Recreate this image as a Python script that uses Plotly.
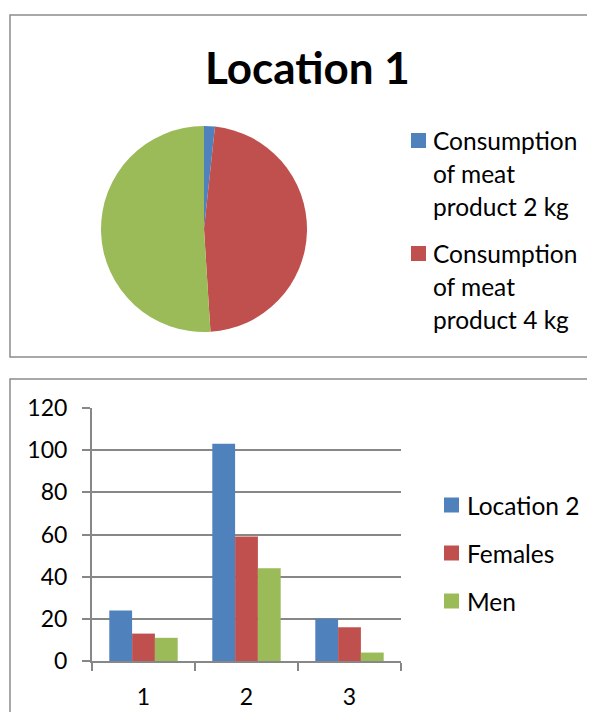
import plotly.graph_objects as go

# page body has an 8px margin; keep the figure inside the 595x720 window
OFF = 8
W, H = 595 - 2 * OFF, 720 - 2 * OFF

# ---- data ----
pie_title = "Location 1"
pie_labels = ["Consumption of meat product 2 kg",
              "Consumption of meat product 4 kg",
              "Consumption of meat product 6 kg"]
pie_values = [1.7, 47.3, 51.0]
pie_legend_lines = [["Consumption", "of meat", "product 2 kg"],
                    ["Consumption", "of meat", "product 4 kg"]]

bar_categories = ["1", "2", "3"]
bar_series = ["Location 2", "Females", "Men"]
bar_location2 = [24, 103, 20]
bar_females = [13, 59, 16]
bar_men = [11, 44, 4]
y_ticks = [0, 20, 40, 60, 80, 100, 120]

colors = ["#4F81BD", "#C0504D", "#9BBB59"]
FONT = "Lato"
GRID = "#878787"

def px(x):
    return (x - OFF) / W

def py(y):
    return 1 - (y - OFF) / H

fig = go.Figure()

# ---- pie ----
cx, cy, r = 204, 229, 103
fig.add_trace(go.Pie(
    labels=pie_labels, values=pie_values, sort=False, direction="clockwise",
    rotation=0, textinfo="none", hoverinfo="label+value", automargin=False,
    marker=dict(colors=colors, line=dict(width=0)),
    domain=dict(x=[px(cx - r), px(cx + r)], y=[py(cy + r), py(cy - r)]),
    showlegend=False,
))

# ---- bars ----
for name, vals, col in zip(bar_series, [bar_location2, bar_females, bar_men], colors):
    fig.add_trace(go.Bar(
        x=bar_categories, y=vals, name=name, marker=dict(color=col, line=dict(width=0)),
        xaxis="x", yaxis="y", showlegend=False,
    ))

shapes = []
annotations = []

# frames (they run off the right/bottom edge like in the original)
shapes.append(dict(type="rect", xref="paper", yref="paper",
                   x0=px(10), x1=px(640), y0=py(357), y1=py(15),
                   line=dict(color="#8c8c8c", width=1.5)))
shapes.append(dict(type="rect", xref="paper", yref="paper",
                   x0=px(10), x1=px(640), y0=py(760), y1=py(379),
                   line=dict(color="#8c8c8c", width=1.5)))

# pie title
annotations.append(dict(text="<b>" + pie_title + "</b>", x=px(307), y=py(67),
                        xref="paper", yref="paper", showarrow=False,
                        xanchor="center", yanchor="middle",
                        font=dict(family=FONT, size=44, color="black")))

# pie legend (only first two entries fit inside the original box)
entry_tops = [140, 253]
line_gap = 33
for i, lines in enumerate(pie_legend_lines):
    y0 = entry_tops[i]
    shapes.append(dict(type="rect", xref="paper", yref="paper",
                       x0=px(411), x1=px(426), y0=py(y0 + 8), y1=py(y0 - 7),
                       fillcolor=colors[i], line=dict(width=0)))
    for j, t in enumerate(lines):
        annotations.append(dict(text=t, x=px(431), y=py(y0 + j * line_gap),
                                xref="paper", yref="paper", showarrow=False,
                                xanchor="left", yanchor="middle",
                                font=dict(family=FONT, size=24.5, color="black")))

# bar legend
bar_leg_y = [505, 553, 601]
for i, name in enumerate(bar_series):
    yc = bar_leg_y[i]
    shapes.append(dict(type="rect", xref="paper", yref="paper",
                       x0=px(444), x1=px(459), y0=py(yc + 7.5), y1=py(yc - 7.5),
                       fillcolor=colors[i], line=dict(width=0)))
    annotations.append(dict(text=name, x=px(465), y=py(yc),
                            xref="paper", yref="paper", showarrow=False,
                            xanchor="left", yanchor="middle",
                            font=dict(family=FONT, size=24.5, color="black")))

fig.update_layout(
    template="none",
    width=W, height=H, autosize=False,
    margin=dict(l=0, r=0, t=0, b=0, pad=0, autoexpand=False),
    paper_bgcolor="white", plot_bgcolor="white",
    showlegend=False,
    barmode="group", bargap=0.336, bargroupgap=0,
    xaxis=dict(domain=[px(92), px(401)], type="category", automargin=False,
               showgrid=False, showline=True, linecolor=GRID, linewidth=2,
               ticks="outside", ticklen=8, tickwidth=2, tickcolor=GRID,
               tickson="boundaries", ticklabelstandoff=14,
               tickfont=dict(family=FONT, size=23, color="black"),
               anchor="y", fixedrange=True),
    yaxis=dict(domain=[py(661), py(408)], range=[0, 120], tickvals=y_ticks,
               automargin=False,
               showgrid=True, gridcolor=GRID, gridwidth=2,
               zeroline=False, showline=True, linecolor=GRID, linewidth=2,
               ticks="outside", ticklen=8, tickwidth=2, tickcolor=GRID,
               ticklabelstandoff=10,
               tickfont=dict(family=FONT, size=23, color="black"),
               anchor="x", fixedrange=True),
    shapes=shapes, annotations=annotations,
)

fig.write_html("out.html")
